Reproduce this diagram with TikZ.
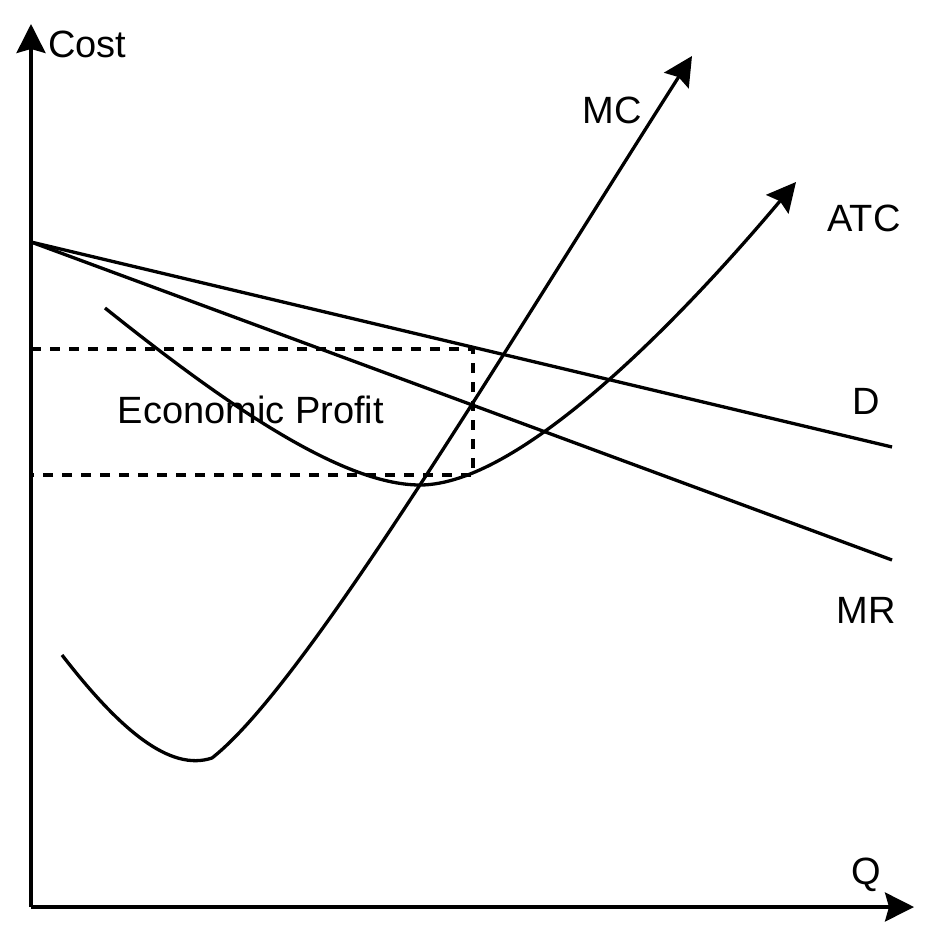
\documentclass[tikz,border=0pt]{standalone}
\usepackage{fontspec}
\setmainfont{Liberation Sans}
\usetikzlibrary{arrows.meta}
\begin{document}
\begin{tikzpicture}[x=1pt,y=-1pt,
  curve/.style={line width=3.3pt, line join=round},
  tip/.style={-{Stealth[length=29pt,width=29pt,inset=4pt]}},
  guide/.style={line width=3.2pt, dash pattern=on 10pt off 9pt},
  lbl/.style={inner sep=0pt, font=\fontsize{38}{42}\selectfont}]
\useasboundingbox (0,0) rectangle (933,939);
% axes
\coordinate (O) at (31,907);
\coordinate (ytip) at (31,24);
\coordinate (xtip) at (914,907);
\draw[curve,tip] (O) -- (ytip);
\draw[curve,tip] (O) -- (xtip);
\node[lbl] (cost) at (87.5,44) {Cost};
\node[lbl] (q) at (866,875) {Q};
% demand and MR
\coordinate (P0) at (31,242);
\coordinate (Dend) at (892,447);
\coordinate (MRend) at (892,560);
\draw[curve] (P0) -- (Dend);
\draw[curve] (P0) -- (MRend);
\node[lbl] (dl) at (866,401) {D};
\node[lbl] (mrl) at (866,610) {MR};
% dashed profit box
\coordinate (pt) at (31,349);
\coordinate (qt) at (473,349);
\coordinate (qb) at (473,475);
\coordinate (pb) at (31,475);
\draw[guide] (pt) -- (qt) -- (qb) -- (pb);
\node[lbl] (ep) at (251,410) {Economic Profit};
% ATC
\coordinate (atc0) at (105,308);
\coordinate (atcmin) at (420,485);
\coordinate (atctip) at (796,182);
\draw[curve,tip] (atc0) .. controls (220,400) and (340,485) .. (atcmin)
  .. controls (520,485) and (680,320) .. (atctip);
\node[lbl] (atcl) at (864,218) {ATC};
% MC
\coordinate (mc0) at (62,655);
\coordinate (mcmin) at (212,758);
\coordinate (mctip) at (692,56);
\draw[curve,tip] (mc0) .. controls (120,730) and (170,772) .. (mcmin)
  .. controls (305,685) and (495,365) .. (mctip);
\node[lbl] (mcl) at (612,110) {MC};
\end{tikzpicture}
\end{document}
